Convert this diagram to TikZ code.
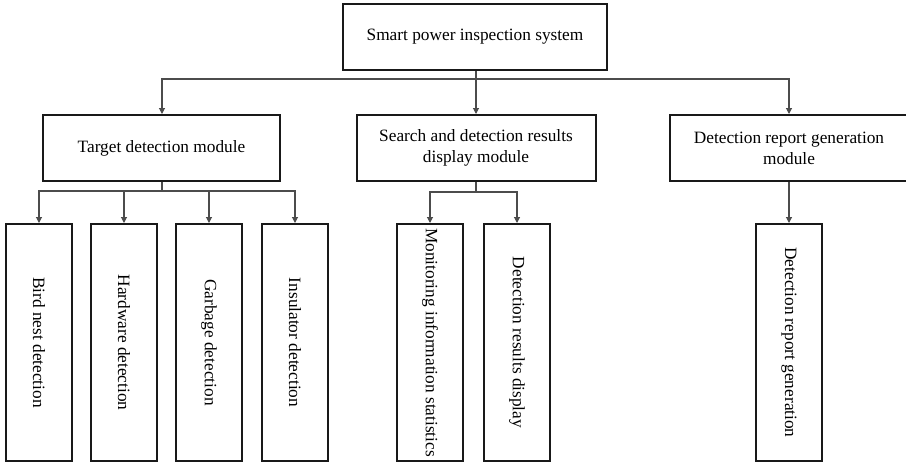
\documentclass[tikz,border=0pt]{standalone}
\usepackage{fontspec}
\setmainfont{Liberation Serif}
\usetikzlibrary{arrows.meta}
\begin{document}
\begin{tikzpicture}[x=1pt,y=-1pt,
  box/.style={draw=black!90,line width=2pt,inner sep=0pt,align=center,font=\fontsize{17.3}{21}\selectfont},
  hbox/.style={box,minimum height=66pt},
  vbox/.style={box,minimum width=66pt,minimum height=237pt},
  vtext/.style={rotate=-90,font=\fontsize{17.3}{21}\selectfont,inner sep=0pt},
  conn/.style={draw=black!70,line width=1.1pt},
  arr/.style={conn,-{Triangle[length=6pt,width=6pt]}}]
\useasboundingbox (0,0) rectangle (906,464);
\fill[white] (0,0) rectangle (906,464);
\node[hbox,minimum width=264pt] (top) at (475,37) {Smart power inspection system};
\node[hbox,minimum width=237pt] (tdm) at (161.5,148) {Target detection module};
\node[hbox,minimum width=239pt] (sdm) at (476,148) {Search and detection results\\display module};
\node[hbox,minimum width=238pt] (drm) at (789,148) {Detection report generation\\module};
\node[vbox] (b1) at (39,342.5) {};
\node[vtext] at (b1.center) {Bird nest detection};
\node[vbox] (b2) at (124,342.5) {};
\node[vtext] at (b2.center) {Hardware detection};
\node[vbox] (b3) at (209,342.5) {};
\node[vtext] at (b3.center) {Garbage detection};
\node[vbox] (b4) at (295,342.5) {};
\node[vtext] at (b4.center) {Insulator detection};
\node[vbox] (b5) at (430,342.5) {};
\node[vtext] at (b5.center) {Monitoring information statistics};
\node[vbox] (b6) at (517,342.5) {};
\node[vtext] at (b6.center) {Detection results display};
\node[vbox] (b7) at (789,342.5) {};
\node[vtext] at (b7.center) {Detection report generation};
\coordinate (j0) at (476,79);
\coordinate (j1) at (162,191);
\coordinate (j2) at (476,192);
\draw[conn] (top.south -| j0) -- (j0);
\draw[arr] (j0) -| (tdm.north -| j1);
\draw[arr] (j0) -- (sdm.north -| j0);
\draw[arr] (j0) -| (drm.north);
\draw[conn] (tdm.south -| j1) -- (j1);
\draw[arr] (j1) -| (b1.north);
\draw[arr] (j1) -| (b2.north);
\draw[arr] (j1) -| (b3.north);
\draw[arr] (j1) -| (b4.north);
\draw[conn] (sdm.south -| j2) -- (j2);
\draw[arr] (j2) -| (b5.north);
\draw[arr] (j2) -| (b6.north);
\draw[arr] (drm.south) -- (b7.north);
\end{tikzpicture}
\end{document}
